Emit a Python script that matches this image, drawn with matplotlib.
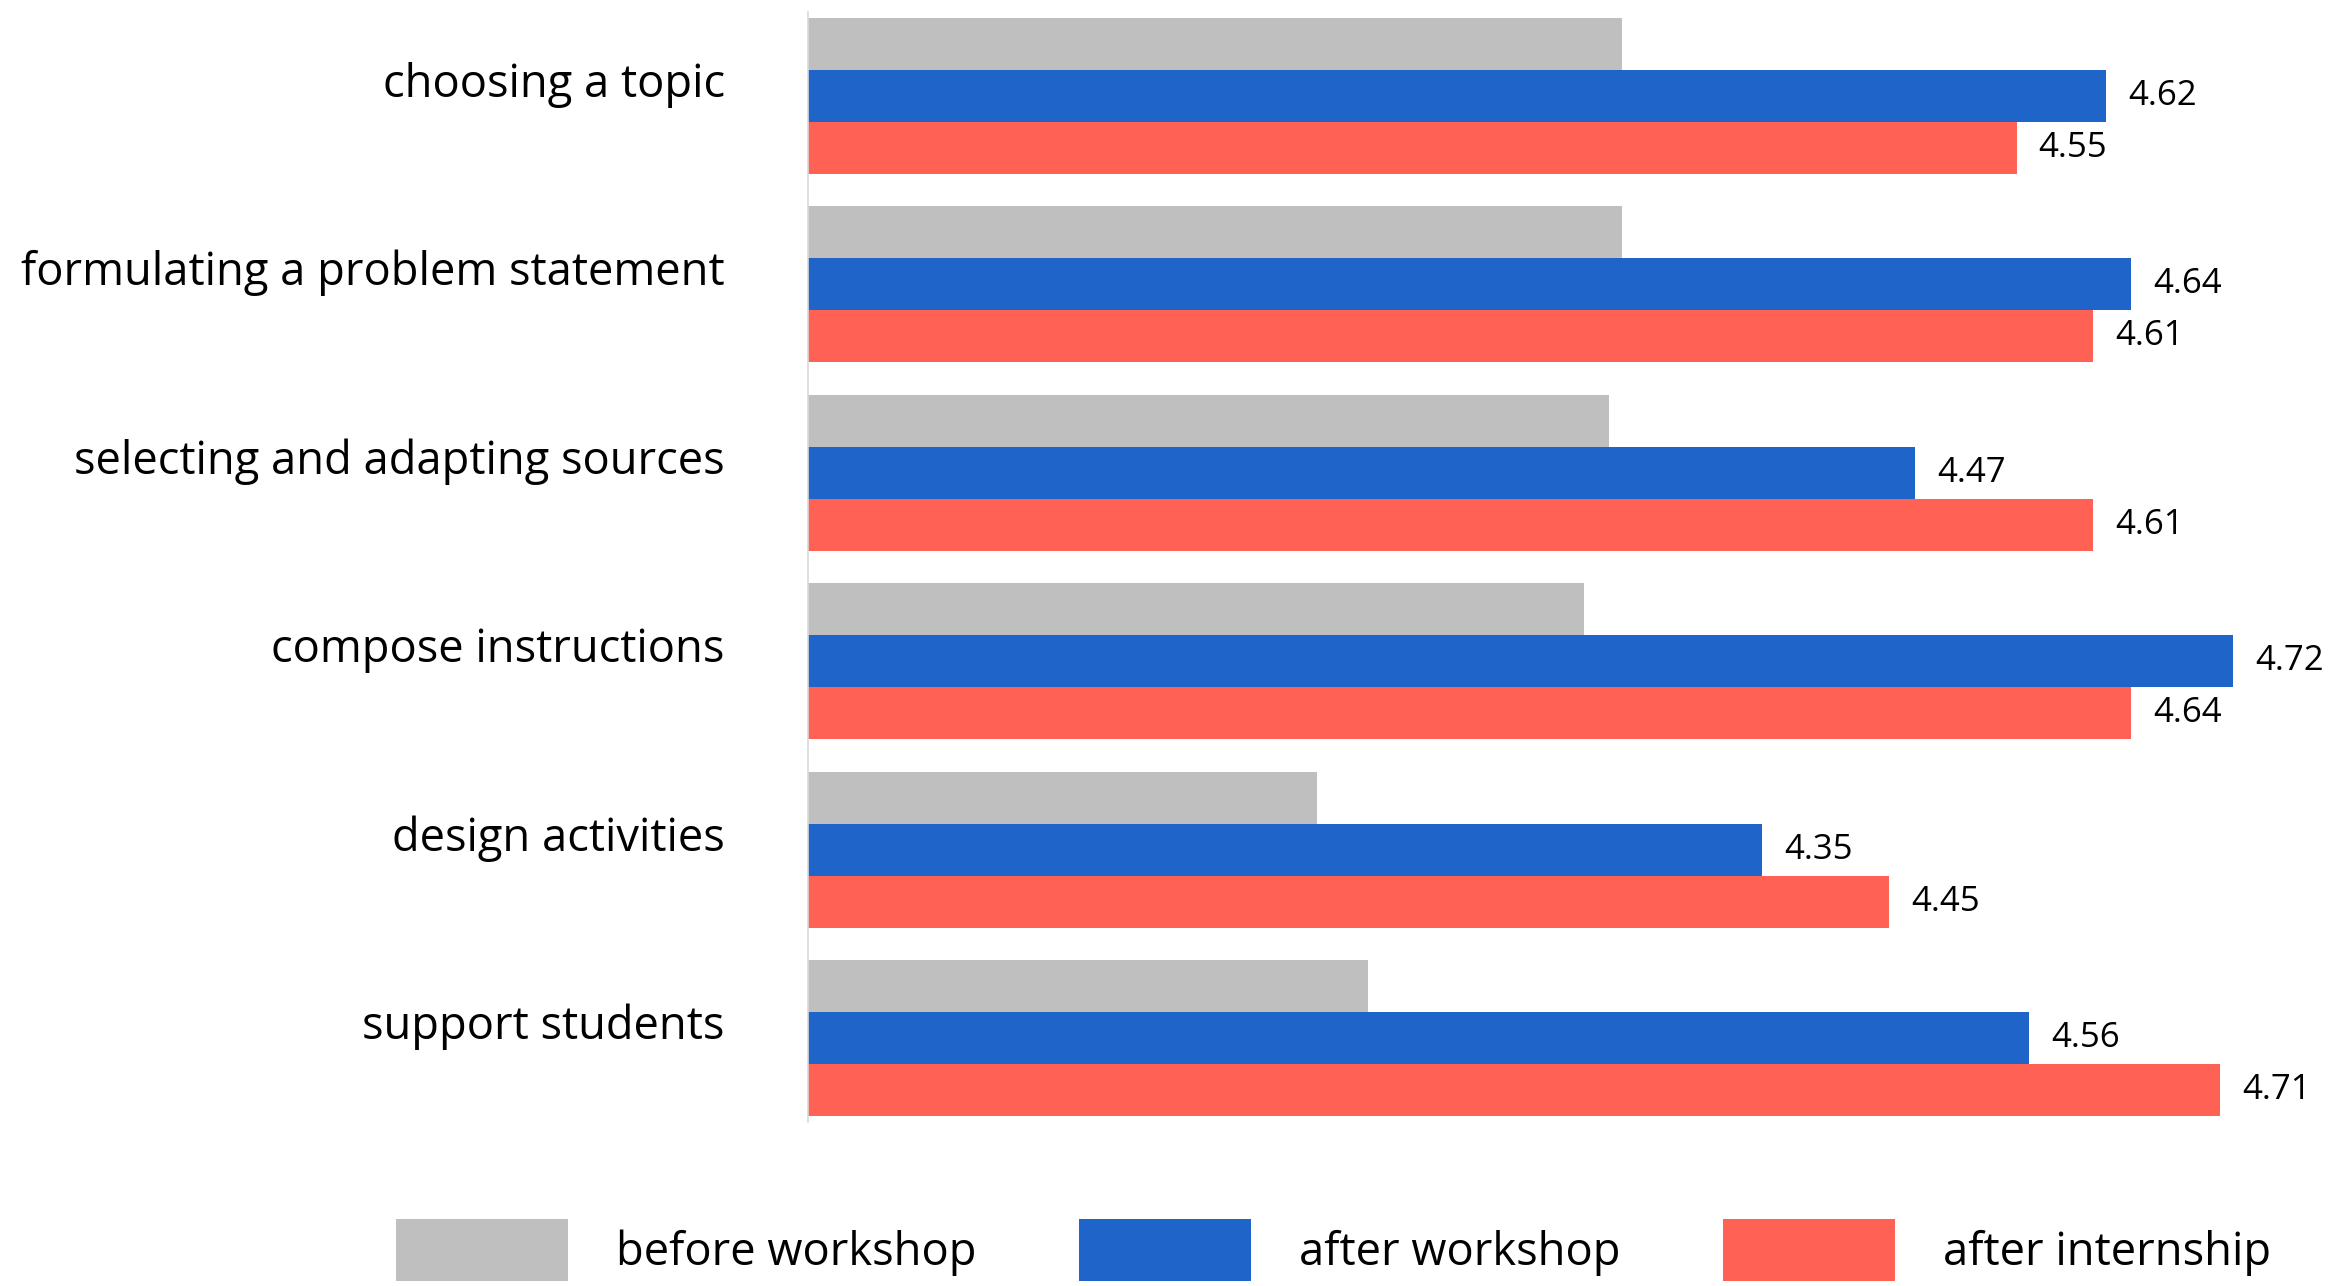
import matplotlib.pyplot as plt
import matplotlib.transforms as mtransforms
import numpy as np

# Self-rated skill scores per task, three survey moments.
categories = ["choosing a topic", "formulating a problem statement",
              "selecting and adapting sources", "compose instructions",
              "design activities", "support students"]
before_workshop = [4.24, 4.24, 4.23, 4.21, 4.00, 4.04]
after_workshop = [4.62, 4.64, 4.47, 4.72, 4.35, 4.56]
after_internship = [4.55, 4.61, 4.61, 4.64, 4.45, 4.71]
series_names = ["before workshop", "after workshop", "after internship"]

plt.rcParams["font.family"] = ["Open Sans", "DejaVu Sans"]

GREY = "#bfbfbf"
BLUE = "#1f64c8"
RED = "#ff6154"

fig = plt.figure(figsize=(23.51, 12.86), dpi=100)
ax = fig.add_axes([0.3437, 0.1275, 0.6493, 0.8632])

y = np.arange(len(categories))
h = 0.276
bars_g = ax.barh(y - h, before_workshop, h, left=0, color=GREY, label=series_names[0])
bars_b = ax.barh(y, after_workshop, h, color=BLUE, label=series_names[1])
bars_r = ax.barh(y + h, after_internship, h, color=RED, label=series_names[2])

ax.set_xlim(3.6, 4.8)
ax.set_ylim(len(categories) - 1 + 0.445, -0.445)

# value labels only for the two post-workshop series
ax.bar_label(bars_b, labels=[f"{v:.2f}" for v in after_workshop],
             padding=16, fontsize=25)
ax.bar_label(bars_r, labels=[f"{v:.2f}" for v in after_internship],
             padding=16, fontsize=25)

ax.set_xticks([])
ax.set_yticks(y)
ax.set_yticklabels(categories, fontsize=32.6)
ax.tick_params(axis="y", length=0, pad=60)
shift = mtransforms.ScaledTranslation(0, 12 / 72, fig.dpi_scale_trans)
for lbl in ax.get_yticklabels():
    lbl.set_transform(lbl.get_transform() + shift)

for side in ["top", "right", "bottom"]:
    ax.spines[side].set_visible(False)
ax.spines["left"].set_color("#d9d9d9")
ax.spines["left"].set_linewidth(1.2)

fig.legend(loc="lower left", bbox_to_anchor=(0.1684, 0.004), ncol=3,
           frameon=False, fontsize=32.6, handlelength=3.81, handleheight=1.72,
           handletextpad=1.06, columnspacing=2.25, borderpad=0,
           borderaxespad=0)

fig.savefig("out.png", dpi=100)
